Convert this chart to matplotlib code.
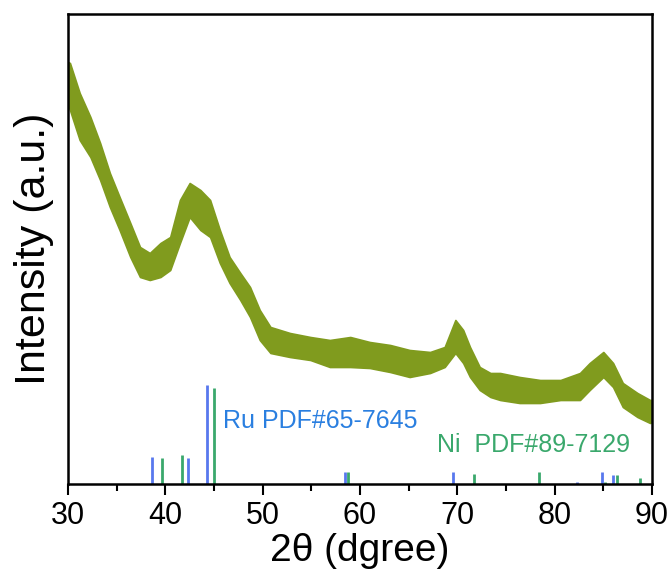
import matplotlib
matplotlib.use("Agg")
import matplotlib.pyplot as plt
from matplotlib.ticker import MultipleLocator

plt.rcParams['font.family'] = ['Liberation Sans', 'DejaVu Sans']

# XRD pattern envelope, arbitrary intensity units
two_theta = [30.0, 30.2, 31.2, 32.3, 33.3, 34.3, 35.3, 36.4, 37.4, 38.4, 39.5, 40.5,
             41.5, 42.5, 43.6, 44.6, 45.6, 46.6, 47.7, 48.7, 49.7, 50.8, 52.8, 54.9,
             56.9, 59.0, 61.0, 63.1, 65.1, 67.2, 68.7, 69.8, 70.6, 71.3, 72.3, 73.4,
             74.4, 76.4, 78.5, 80.6, 82.6, 83.6, 85.0, 86.0, 87.0, 88.5, 89.8, 90.0]
upper = [422, 421, 391, 367, 341, 311, 287, 261, 237, 231, 241, 247,
         284, 301, 294, 284, 254, 227, 211, 197, 174, 157, 151, 147,
         144, 147, 142, 139, 134, 132, 137, 164, 154, 137, 117, 111,
         111, 107, 104, 104, 111, 121, 132, 121, 101, 91, 84, 84]
lower = [379, 374, 344, 327, 304, 277, 254, 227, 207, 204, 207, 214,
         241, 267, 254, 247, 221, 201, 184, 167, 144, 131, 127, 124,
         117, 117, 116, 112, 107, 111, 117, 131, 121, 107, 94, 87,
         84, 81, 81, 84, 84, 94, 107, 97, 77, 67, 61, 62]

# Reference patterns
ru_pos = [38.6, 42.3, 44.3, 58.5, 69.6, 82.3, 84.9, 86.0]
ru_int = [27, 26, 99, 12, 12, 2, 12, 9]
ni_pos = [39.7, 41.7, 45.0, 58.8, 71.7, 78.4, 85.2, 86.4, 88.8]
ni_int = [26, 29, 96, 12, 10, 12, 2, 9, 6]

curve_color = '#809b1e'
ru_color = '#5878ee'
ni_color = '#3aa86c'

fig = plt.figure(figsize=(6.69, 5.76), dpi=100)
ax = fig.add_axes([68/669, 1-484/576, (652-68)/669, (484-14)/576])

ax.fill_between(two_theta, lower, upper, color=curve_color, linewidth=1.2,
                edgecolor=curve_color)

ax.vlines(ru_pos, 0, ru_int, colors=ru_color, linewidth=2)
ax.vlines(ni_pos, 0, ni_int, colors=ni_color, linewidth=2)

ax.text(45.9, 63, 'Ru PDF#65-7645', color='#2a7fe0', fontsize=18, va='center', ha='left')
ax.text(67.9, 39, 'Ni  PDF#89-7129', color=ni_color, fontsize=18, va='center', ha='left')

ax.set_xlim(30, 90)
ax.set_ylim(0, 470)
ax.xaxis.set_major_locator(MultipleLocator(10))
ax.xaxis.set_minor_locator(MultipleLocator(5))
ax.set_yticks([])
ax.tick_params(axis='x', which='major', direction='out', length=8, width=1.5,
               labelsize=22, pad=4)
ax.tick_params(axis='x', which='minor', direction='out', length=5, width=1.5)
for s in ax.spines.values():
    s.set_linewidth(1.8)
    s.set_color('black')

ax.set_xlabel('2θ (dgree)', fontsize=28, labelpad=2)
ax.set_ylabel('Intensity (a.u.)', fontsize=31, labelpad=10)

fig.savefig('out.png', dpi=100)
